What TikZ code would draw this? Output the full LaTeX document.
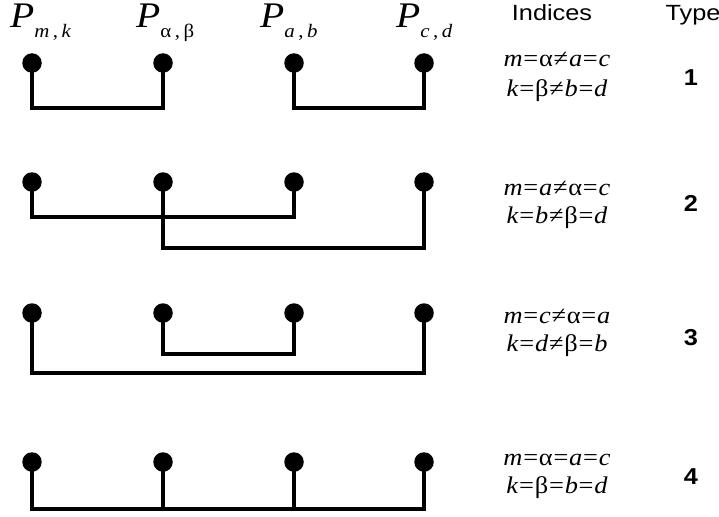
\documentclass[tikz,border=0pt]{standalone}
\usepackage{fontspec}
\setmainfont{Liberation Serif}
\newfontfamily\sansf{Liberation Sans}
\tikzset{
  dot/.style={circle,fill=black,inner sep=0pt,minimum size=19.5pt},
  link/.style={line width=4.5pt,line join=miter,line cap=rect},
  eqtxt/.style={anchor=base,inner sep=0pt,font=\fontsize{24}{24}\selectfont,transform shape,xscale=1.1},
  plab/.style={anchor=base west,inner sep=0pt,transform shape,xscale=1.1},
  head/.style={anchor=base,inner sep=0pt,font=\sansf\fontsize{22}{22}\selectfont,transform shape,xscale=1.15},
  typ/.style={anchor=center,inner sep=0pt,font=\sansf\bfseries\fontsize{23}{23}\selectfont,transform shape,xscale=1.1}
}
\newcommand\Plab[2]{{\fontsize{36}{36}\selectfont\itshape P}\raisebox{-10pt}{\fontsize{19}{19}\selectfont #1\,,\,#2}}
\newcommand\iv[1]{\textit{#1}}
\newcommand\EQ{\kern0.7pt=\kern0.7pt}
\newcommand\NE{\kern0.7pt≠\kern0.7pt}
\begin{document}
\begin{tikzpicture}[x=1pt,y=-1pt]
\useasboundingbox (0,0) rectangle (719,516);
% headers
\node[plab] (p1) at (10,28) {\Plab{\iv{m}}{\iv{k}}};
\node[plab] (p2) at (136,28) {\Plab{α}{β}};
\node[plab] (p3) at (260,28) {\Plab{\iv{a}}{\iv{b}}};
\node[plab] (p4) at (396,28) {\Plab{\iv{c}}{\iv{d}}};
\node[head] (hi) at (552,21) {Indices};
\node[head] (ht) at (693,21) {Type};
% dots
\foreach \r/\y in {1/63,2/182,3/313,4/462}{
  \foreach \c/\x in {1/32,2/163,3/294,4/424}{
    \node[dot] (d\r\c) at (\x,\y) {};
  }
}
% bar levels
\coordinate (b1) at (0,108);
\coordinate (b2a) at (0,217);
\coordinate (b2b) at (0,248);
\coordinate (b3a) at (0,354);
\coordinate (b3b) at (0,373);
\coordinate (b4) at (0,509);
% row 1
\draw[link] (d11.center) |- (b1 -| d12.center) -- (d12.center);
\draw[link] (d13.center) |- (b1 -| d14.center) -- (d14.center);
% row 2
\draw[link] (d21.center) |- (b2a -| d23.center) -- (d23.center);
\draw[link] (d22.center) |- (b2b -| d24.center) -- (d24.center);
% row 3
\draw[link] (d32.center) |- (b3a -| d33.center) -- (d33.center);
\draw[link] (d31.center) |- (b3b -| d34.center) -- (d34.center);
% row 4
\draw[link] (d41.center) |- (b4 -| d44.center) -- (d44.center);
\draw[link] (d42.center) -- (b4 -| d42.center);
\draw[link] (d43.center) -- (b4 -| d43.center);
% equations
\node[eqtxt] (e1a) at (557,67) {\iv{m}\EQ α\NE\iv{a}\EQ\iv{c}};
\node[eqtxt] (e1b) at (557,96) {\iv{k}\EQ β\NE\iv{b}\EQ\iv{d}};
\node[eqtxt] (e2a) at (557,195) {\iv{m}\EQ\iv{a}\NE α\EQ\iv{c}};
\node[eqtxt] (e2b) at (557,223) {\iv{k}\EQ\iv{b}\NE β\EQ\iv{d}};
\node[eqtxt] (e3a) at (557,323) {\iv{m}\EQ\iv{c}\NE α\EQ\iv{a}};
\node[eqtxt] (e3b) at (557,351) {\iv{k}\EQ\iv{d}\NE β\EQ\iv{b}};
\node[eqtxt] (e4a) at (557,465) {\iv{m}\EQ α\EQ\iv{a}\EQ\iv{c}};
\node[eqtxt] (e4b) at (557,493) {\iv{k}\EQ β\EQ\iv{b}\EQ\iv{d}};
% types
\node[typ] (t1) at (691,78) {1};
\node[typ] (t2) at (691,203) {2};
\node[typ] (t3) at (691,338) {3};
\node[typ] (t4) at (691,477) {4};
\end{tikzpicture}
\end{document}
